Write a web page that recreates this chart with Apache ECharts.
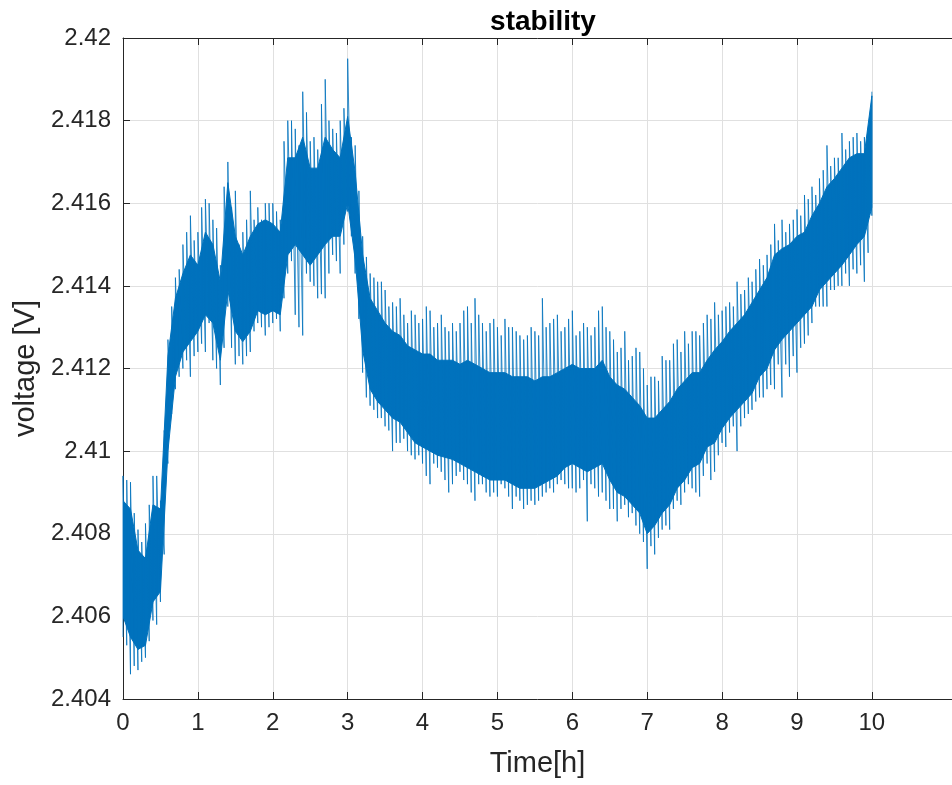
<!DOCTYPE html>
<html>
<head>
<meta charset="utf-8">
<script src="https://cdn.jsdelivr.net/npm/echarts@6/dist/echarts.min.js"></script>
<style>html,body{margin:0;padding:0;background:#fff}#c{width:952px;height:785px}</style>
</head>
<body>
<div id="c"></div>
<script>
// time samples [h]
const hours = [0,0.1,0.2,0.3,0.4,0.5,0.6,0.7,0.8,0.9,1,1.1,1.2,1.3,1.4,1.5,1.6,1.7,1.8,1.9,2,2.1,2.2,2.3,2.4,2.5,2.6,2.7,2.8,2.9,3,3.1,3.2,3.3,3.4,3.5,3.6,3.7,3.8,3.9,4,4.1,4.2,4.3,4.4,4.5,4.6,4.7,4.8,4.9,5,5.1,5.2,5.3,5.4,5.5,5.6,5.7,5.8,5.9,6,6.1,6.2,6.3,6.4,6.5,6.6,6.7,6.8,6.9,7,7.1,7.2,7.3,7.4,7.5,7.6,7.7,7.8,7.9,8,8.1,8.2,8.3,8.4,8.5,8.6,8.7,8.8,8.9,9,9.1,9.2,9.3,9.4,9.5,9.6,9.7,9.8,9.9,10];
// spike extremes of the noisy voltage trace at those samples [V]
const spikeHigh = [2.4094,2.40925,2.4081,2.40825,2.4094,2.4088,2.4127,2.4142,2.4150,2.4157,2.4153,2.4161,2.4156,2.4145,2.4170,2.4163,2.4153,2.4163,2.4159,2.4160,2.4160,2.4156,2.4180,2.4178,2.4187,2.4175,2.4173,2.4190,2.4178,2.4180,2.4195,2.4174,2.4152,2.4143,2.4141,2.4139,2.4136,2.4137,2.4131,2.4133,2.4132,2.4134,2.4131,2.4130,2.4131,2.4131,2.4135,2.4137,2.4131,2.4131,2.4130,2.4132,2.4130,2.4128,2.4128,2.4129,2.4137,2.4131,2.4133,2.4130,2.4134,2.4129,2.4130,2.4130,2.4135,2.4129,2.4124,2.4129,2.4123,2.4124,2.4116,2.4118,2.4123,2.4122,2.4127,2.4129,2.4129,2.4128,2.4133,2.4136,2.4134,2.4136,2.4141,2.4139,2.4141,2.41465,2.41475,2.4155,2.4156,2.4155,2.41585,2.4162,2.4164,2.4166,2.4174,2.4171,2.4177,2.4175,2.4177,2.4176,2.4187];
const spikeLow = [2.4055,2.4046,2.4047,2.4050,2.4059,2.40635,2.4097,2.4115,2.4120,2.4118,2.4124,2.4124,2.4122,2.4116,2.4135,2.4121,2.4121,2.4124,2.4131,2.4128,2.4131,2.4129,2.4143,2.4133,2.4128,2.4141,2.4137,2.4137,2.41475,2.4143,2.4158,2.4143,2.4119,2.4111,2.4108,2.4106,2.4100,2.4102,2.4100,2.4098,2.4097,2.4092,2.4096,2.4093,2.4092,2.4095,2.4092,2.4088,2.4092,2.4089,2.4089,2.4091,2.4086,2.4088,2.4087,2.4087,2.4089,2.4091,2.4092,2.4092,2.4091,2.4091,2.4083,2.4091,2.4090,2.4086,2.4083,2.4087,2.4085,2.4080,2.40715,2.4075,2.4081,2.4081,2.4088,2.4090,2.4091,2.4089,2.4097,2.4095,2.4102,2.41045,2.4100,2.4108,2.4110,2.4113,2.4115,2.4115,2.4113,2.4118,2.4119,2.4126,2.4131,2.4135,2.4135,2.4139,2.4140,2.4140,2.4143,2.4141,2.4157];
// in-between samples [h] and their spike extremes [V]
const midHours = [0.05,0.15,0.25,0.35,0.45,0.55,0.65,0.75,0.85,0.95,1.05,1.15,1.25,1.35,1.45,1.55,1.65,1.75,1.85,1.95,2.05,2.15,2.25,2.35,2.45,2.55,2.65,2.75,2.85,2.95,3.05,3.15,3.25,3.35,3.45,3.55,3.65,3.75,3.85,3.95,4.05,4.15,4.25,4.35,4.45,4.55,4.65,4.75,4.85,4.95,5.05,5.15,5.25,5.35,5.45,5.55,5.65,5.75,5.85,5.95,6.05,6.15,6.25,6.35,6.45,6.55,6.65,6.75,6.85,6.95,7.05,7.15,7.25,7.35,7.45,7.55,7.65,7.75,7.85,7.95,8.05,8.15,8.25,8.35,8.45,8.55,8.65,8.75,8.85,8.95,9.05,9.15,9.25,9.35,9.45,9.55,9.65,9.75,9.85,9.95];
const midHigh = [2.4093,2.4085,2.4078,2.4087,2.4094,2.4105,2.4135,2.4144,2.4153,2.4151,2.4159,2.4160,2.4154,2.4164,2.4159,2.4150,2.4156,2.4156,2.4156,2.4160,2.4158,2.4175,2.4180,2.4174,2.4182,2.4176,2.4184,2.4180,2.4177,2.4183,2.4176,2.4163,2.4147,2.4142,2.4141,2.4135,2.4135,2.4133,2.4134,2.4131,2.4135,2.4130,2.4133,2.4129,2.4129,2.4134,2.4131,2.4133,2.4129,2.4132,2.4128,2.4130,2.4129,2.4127,2.4130,2.4128,2.4130,2.4132,2.4129,2.4132,2.4128,2.4131,2.4128,2.4134,2.4130,2.4127,2.4125,2.4122,2.4125,2.4120,2.4118,2.4117,2.4122,2.4126,2.4124,2.4126,2.4129,2.4131,2.4132,2.4133,2.4135,2.4135,2.4138,2.4142,2.4144,2.4145,2.4150,2.4151,2.4153,2.4156,2.4157,2.4161,2.4162,2.4168,2.4169,2.4171,2.4173,2.4176,2.4175,2.4178];
const midLow = [2.4053,2.4048,2.4049,2.4054,2.4058,2.4075,2.4109,2.4118,2.4122,2.4123,2.4126,2.4131,2.4120,2.4125,2.4125,2.4123,2.4123,2.4129,2.4130,2.4130,2.4132,2.4137,2.4146,2.4130,2.4143,2.4140,2.4138,2.4143,2.4146,2.4150,2.4152,2.4132,2.4113,2.4110,2.4108,2.4105,2.4102,2.4103,2.4099,2.4099,2.4094,2.4097,2.4095,2.4090,2.4094,2.4093,2.4090,2.4092,2.4090,2.4090,2.4092,2.4089,2.4089,2.4086,2.4088,2.4088,2.4090,2.4090,2.4093,2.4091,2.4090,2.4093,2.4092,2.4089,2.4088,2.4086,2.4086,2.4084,2.4082,2.4078,2.4077,2.4079,2.4082,2.4086,2.4087,2.4092,2.4090,2.4094,2.4093,2.4099,2.4101,2.4106,2.4106,2.4109,2.4112,2.4113,2.4116,2.4121,2.4121,2.4123,2.4125,2.4128,2.4135,2.4135,2.4139,2.4140,2.4143,2.4144,2.4145,2.4148];
// dense core of the trace [V]
const coreHigh = [2.4088,2.4086,2.4076,2.4074,2.4087,2.4086,2.4123,2.4137,2.4143,2.41475,2.4145,2.4153,2.4150,2.4141,2.4165,2.4152,2.41475,2.4152,2.4155,2.4156,2.4155,2.4153,2.4171,2.4171,2.4176,2.41685,2.41685,2.4176,2.4173,2.4171,2.4181,2.41675,2.41475,2.4137,2.4134,2.4131,2.4129,2.4128,2.41255,2.41245,2.41235,2.41235,2.4122,2.4122,2.4122,2.4121,2.4122,2.4121,2.4120,2.4119,2.4119,2.4119,2.4118,2.4118,2.4118,2.4117,2.4118,2.4118,2.4119,2.4120,2.4121,2.4120,2.4120,2.4120,2.4122,2.4118,2.4116,2.4115,2.4113,2.4111,2.4108,2.4108,2.4110,2.4112,2.4115,2.4117,2.4119,2.4119,2.4122,2.41245,2.41265,2.4129,2.4131,2.4133,2.4136,2.4139,2.4142,2.41475,2.4149,2.4150,2.4152,2.4153,2.4157,2.4160,2.4164,2.4166,2.41685,2.4171,2.4172,2.4172,2.4186];
const coreLow = [2.4060,2.4055,2.4052,2.4053,2.40635,2.4066,2.4100,2.4118,2.4124,2.41265,2.4129,2.4133,2.4131,2.4122,2.4139,2.4129,2.41265,2.4129,2.4134,2.4133,2.4134,2.4133,2.41475,2.4150,2.41475,2.4145,2.41475,2.4150,2.4152,2.4152,2.4160,2.41465,2.41245,2.4115,2.4112,2.4110,2.4108,2.4107,2.41045,2.4102,2.4101,2.4100,2.4099,2.40985,2.4098,2.4097,2.4096,2.4095,2.4094,2.4093,2.4093,2.4093,2.4092,2.4091,2.4091,2.4091,2.4092,2.4093,2.4094,2.4096,2.4097,2.4096,2.4095,2.4096,2.4097,2.4093,2.4090,2.4089,2.4087,2.4085,2.4080,2.4082,2.4085,2.4087,2.4091,2.4093,2.4096,2.4097,2.4101,2.4102,2.41055,2.4108,2.4110,2.4112,2.4114,2.4118,2.4120,2.41245,2.4127,2.4129,2.4131,2.4133,2.4135,2.4139,2.4141,2.4143,2.4145,2.41475,2.4150,2.4152,2.4159];
const xTickValues = [0,1,2,3,4,5,6,7,8,9,10];

const BLUE = '#0072BD';
const AX = '#262626';
const FONT = 'Liberation Sans, Arial, Helvetica, sans-serif';

// zigzag trace through the spike extremes, in time order
const trace = [];
for (let i = 0; i < hours.length; i++) {
  trace.push([hours[i], spikeLow[i]]);
  trace.push([hours[i], spikeHigh[i]]);
  if (i < midHours.length) {
    trace.push([midHours[i], midLow[i]]);
    trace.push([midHours[i], midHigh[i]]);
  }
}

const chart = echarts.init(document.getElementById('c'), null, {renderer: 'canvas'});
chart.setOption({
  animation: false,
  backgroundColor: '#fff',
  title: {
    text: 'stability', left: 538, top: 3, textAlign: 'center',
    textStyle: {fontFamily: FONT, fontWeight: 'bold', fontSize: 28, color: '#000'}
  },
  grid: {left: 123, right: 0, top: 38, bottom: 86, containLabel: false},
  xAxis: [{
    type: 'value', min: 0, max: 11.07, interval: 1,
    name: 'Time[h]', nameLocation: 'middle', nameGap: 50,
    nameTextStyle: {fontFamily: FONT, fontSize: 29, color: AX},
    axisLine: {show: true, onZero: false, lineStyle: {color: AX, width: 1}},
    axisTick: {show: true, inside: true, length: 7, lineStyle: {color: AX}, customValues: xTickValues},
    axisLabel: {fontFamily: FONT, fontSize: 24, color: AX, margin: 12, customValues: xTickValues},
    splitLine: {show: true, lineStyle: {color: '#e0e0e0', width: 1}}
  }, {
    type: 'value', position: 'top', min: 0, max: 11.07, interval: 1,
    axisLine: {show: true, onZero: false, lineStyle: {color: AX, width: 1}},
    axisTick: {show: true, inside: true, length: 7, lineStyle: {color: AX}, customValues: xTickValues},
    axisLabel: {show: false},
    splitLine: {show: false}
  }],
  yAxis: {
    type: 'value', min: 2.404, max: 2.42, interval: 0.002,
    name: 'voltage [V]', nameLocation: 'middle', nameGap: 80,
    nameTextStyle: {fontFamily: FONT, fontSize: 29, color: AX},
    axisLine: {show: true, lineStyle: {color: AX, width: 1}},
    axisTick: {show: true, inside: true, length: 7, lineStyle: {color: AX}},
    axisLabel: {fontFamily: FONT, fontSize: 24, color: AX, margin: 12,
      formatter: v => String(+v.toFixed(3))},
    splitLine: {show: true, lineStyle: {color: '#e0e0e0', width: 1}}
  },
  series: [{
    type: 'custom',
    xAxisIndex: 0,
    clip: true,
    data: [[0, 2.41]],
    renderItem: function (params, api) {
      const pts = [];
      for (let i = 0; i < hours.length; i++) pts.push(api.coord([hours[i], coreHigh[i]]));
      for (let i = hours.length - 1; i >= 0; i--) pts.push(api.coord([hours[i], coreLow[i]]));
      return {type: 'polygon', shape: {points: pts}, style: {fill: BLUE, stroke: BLUE, lineWidth: 1}};
    },
    z: 3
  }, {
    type: 'line',
    xAxisIndex: 0,
    data: trace,
    showSymbol: false,
    symbol: 'none',
    lineStyle: {color: BLUE, width: 1, opacity: 0.8},
    z: 4
  }]
});
</script>
</body>
</html>
